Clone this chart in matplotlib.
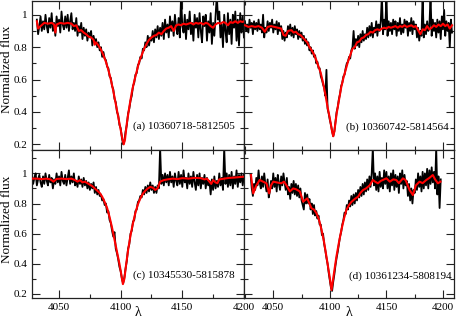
import numpy as np
import matplotlib
matplotlib.use("Agg")
import matplotlib.pyplot as plt
from matplotlib.ticker import MultipleLocator, FuncFormatter

plt.rcParams['font.family'] = ['Liberation Serif', 'DejaVu Serif']

# ---------------- data ----------------
labels = ["(a) 10360718-5812505", "(b) 10360742-5814564",
          "(c) 10345530-5815878", "(d) 10361234-5808194"]

# red model spectra (wavelength, flux)
model_a_wl = [4032, 4033, 4035, 4038, 4041, 4044, 4046, 4047, 4048, 4051, 4054, 4057, 4060, 4062, 4064, 4066,
              4068, 4070, 4072, 4074, 4076, 4078, 4079, 4080, 4082, 4084, 4086, 4088, 4090, 4092, 4094, 4096,
              4098, 4100, 4101.5, 4102.5, 4103.5, 4105, 4107, 4109, 4111, 4113, 4115, 4117, 4119, 4121, 4123,
              4125, 4127, 4129, 4131, 4133, 4135, 4137, 4139, 4141, 4143, 4145, 4147, 4149, 4151, 4153, 4155,
              4157, 4159, 4161, 4163, 4165, 4167, 4169, 4171, 4173, 4175, 4177, 4179, 4181, 4183, 4185, 4187,
              4189, 4191, 4193, 4195, 4197, 4199, 4200]
model_a_f = [0.96, 0.915, 0.93, 0.95, 0.945, 0.95, 0.94, 0.89, 0.94, 0.95, 0.945, 0.95, 0.945, 0.93, 0.935, 0.90,
             0.905, 0.89, 0.88, 0.865, 0.86, 0.845, 0.815, 0.83, 0.81, 0.785, 0.75, 0.71, 0.66, 0.60, 0.53, 0.45,
             0.37, 0.29, 0.23, 0.20, 0.23, 0.33, 0.43, 0.52, 0.59, 0.65, 0.71, 0.75, 0.79, 0.82, 0.845,
             0.86, 0.87, 0.875, 0.89, 0.88, 0.90, 0.915, 0.92, 0.93, 0.90, 0.935, 0.94, 0.935, 0.945, 0.94, 0.945,
             0.95, 0.94, 0.95, 0.945, 0.95, 0.94, 0.95, 0.945, 0.93, 0.92, 0.94, 0.95, 0.945, 0.955, 0.95, 0.935,
             0.955, 0.95, 0.96, 0.95, 0.96, 0.955, 0.96]

model_b_wl = [4025, 4028, 4031, 4034, 4037, 4040, 4042.5, 4045, 4048, 4051, 4054, 4057, 4059, 4061, 4063, 4066,
              4068, 4070, 4072, 4074, 4076, 4078, 4080, 4082, 4084, 4086, 4088, 4090, 4092, 4094, 4096, 4098,
              4100, 4102, 4103, 4104, 4106, 4108, 4110, 4112, 4114, 4116, 4118, 4120, 4122, 4124, 4126, 4128,
              4130, 4132, 4134, 4136, 4138, 4140, 4142, 4144, 4146, 4148, 4150, 4152, 4154, 4156, 4158, 4160,
              4162, 4164, 4166, 4168, 4170, 4172, 4174, 4176, 4178, 4180, 4182, 4184, 4186, 4188, 4190, 4192,
              4194, 4196, 4198, 4200, 4202, 4204, 4206, 4208]
model_b_f = [0.935, 0.925, 0.93, 0.925, 0.93, 0.92, 0.895, 0.925, 0.93, 0.925, 0.92, 0.915, 0.875, 0.87, 0.90, 0.905,
             0.89, 0.895, 0.88, 0.875, 0.86, 0.845, 0.83, 0.80, 0.78, 0.755, 0.72, 0.68, 0.64, 0.58, 0.51, 0.43,
             0.36, 0.28, 0.25, 0.28, 0.39, 0.47, 0.55, 0.61, 0.66, 0.71, 0.75, 0.79, 0.80, 0.83, 0.835, 0.855,
             0.86, 0.875, 0.88, 0.895, 0.89, 0.905, 0.91, 0.905, 0.915, 0.92, 0.915, 0.925, 0.92, 0.925, 0.93, 0.92,
             0.93, 0.925, 0.935, 0.925, 0.93, 0.935, 0.925, 0.93, 0.905, 0.88, 0.91, 0.905, 0.93, 0.91, 0.92, 0.935,
             0.925, 0.94, 0.93, 0.945, 0.93, 0.94, 0.915, 0.935]

model_c_wl = [4028, 4032, 4036, 4040, 4043, 4045.5, 4048, 4052, 4056, 4060, 4063, 4065, 4067, 4069, 4071, 4073,
              4075, 4077, 4079, 4081, 4083, 4085, 4087, 4089, 4091, 4093, 4095, 4097, 4099, 4100.5, 4101.8, 4103,
              4104.5, 4106, 4108, 4110, 4112, 4114, 4116, 4118, 4120, 4122, 4124, 4126, 4128, 4130, 4132, 4135,
              4138, 4142, 4146, 4150, 4155, 4160, 4165, 4168, 4170, 4172, 4173.5, 4175, 4177, 4178.5, 4180, 4184,
              4188, 4192, 4196, 4200]
model_c_f = [0.965, 0.965, 0.962, 0.965, 0.96, 0.945, 0.963, 0.965, 0.962, 0.965, 0.955, 0.945, 0.955, 0.94, 0.945, 0.935,
             0.925, 0.915, 0.90, 0.885, 0.87, 0.845, 0.81, 0.77, 0.71, 0.64, 0.56, 0.48, 0.40, 0.33, 0.265, 0.30,
             0.40, 0.49, 0.59, 0.67, 0.74, 0.795, 0.835, 0.865, 0.885, 0.90, 0.91, 0.905, 0.89, 0.90, 0.945, 0.955,
             0.96, 0.965, 0.962, 0.968, 0.965, 0.97, 0.968, 0.96, 0.965, 0.945, 0.93, 0.955, 0.94, 0.935, 0.96, 0.965,
             0.97, 0.972, 0.975, 0.978]

model_d_wl = [4030.3, 4032.3, 4035, 4038, 4041, 4044, 4046.4, 4048, 4050, 4053, 4057, 4059.5, 4061.7, 4064.7, 4067.6,
              4070, 4073.5, 4076.4, 4080, 4083.8, 4086, 4088.2, 4090.5, 4092.7, 4095, 4097, 4099.5, 4101.5, 4103.5,
              4105.8, 4108, 4110.2, 4112.5, 4114.6, 4117, 4119, 4122, 4125, 4127, 4129.3, 4132, 4135.2, 4138, 4140,
              4142.5, 4145, 4148, 4150, 4153, 4156, 4158.7, 4161, 4164.6, 4167, 4170.5, 4173.4, 4176, 4179.3, 4182,
              4185.2, 4188, 4191, 4193, 4195.5, 4197.8]
model_d_f = [0.989, 0.867, 0.92, 0.956, 0.945, 0.934, 0.867, 0.92, 0.945, 0.94, 0.934, 0.945, 0.92, 0.88, 0.90,
             0.895, 0.88, 0.812, 0.834, 0.768, 0.76, 0.735, 0.69, 0.624, 0.54, 0.447, 0.33, 0.226, 0.33,
             0.447, 0.54, 0.624, 0.70, 0.757, 0.79, 0.81, 0.83, 0.845, 0.87, 0.889, 0.90, 0.92, 0.956, 0.945,
             0.934, 0.95, 0.96, 0.967, 0.945, 0.96, 0.956, 0.935, 0.967, 0.955, 0.889, 0.856, 0.92, 0.945, 0.935,
             0.956, 0.97, 0.989, 0.96, 0.934, 0.945]

# observed spectra (black): first wavelength, sampling step (Angstrom), fluxes incl. cosmic-ray spikes
obs_a_start, obs_a_step = 4032, 1
obs_a_f = [0.97, 0.88, 0.93, 0.99, 0.90, 0.96, 0.91, 1.00, 0.93, 0.89,
           0.98, 0.92, 1.01, 0.90, 0.95, 0.87, 0.99, 0.93, 0.97, 0.89,
           1.02, 0.94, 0.91, 0.99, 0.92, 1.00, 0.90, 0.96, 1.01, 0.91,
           0.95, 0.90, 0.98, 0.87, 0.93, 0.89, 0.95, 0.85, 0.92, 0.87,
           0.91, 0.84, 0.89, 0.86, 0.90, 0.81, 0.87, 0.83, 0.85, 0.80,
           0.83, 0.78, 0.80, 0.74, 0.77, 0.73, 0.72, 0.68, 0.67, 0.62,
           0.61, 0.56, 0.54, 0.48, 0.46, 0.40, 0.38, 0.32, 0.30, 0.24,
           0.20, 0.22, 0.28, 0.32, 0.39, 0.42, 0.47, 0.50, 0.56, 0.58,
           0.63, 0.64, 0.69, 0.70, 0.74, 0.73, 0.79, 0.78, 0.83, 0.80,
           0.87, 0.81, 0.86, 0.84, 0.90, 0.83, 0.91, 0.86, 0.93, 0.85,
           0.92, 0.87, 0.95, 0.85, 0.97, 0.89, 0.94, 0.86, 0.99, 0.90,
           0.96, 0.87, 1.00, 0.92, 0.88, 0.98, 0.86, 1.12, 0.93, 0.89,
           1.00, 0.85, 0.97, 0.91, 1.02, 0.88, 0.95, 0.84, 1.00, 0.92,
           0.98, 0.86, 1.01, 0.90, 0.83, 0.99, 0.93, 1.00, 0.84, 0.96,
           0.89, 1.01, 0.82, 0.95, 0.87, 0.99, 1.12, 0.97, 1.02, 0.86,
           0.94, 0.80, 1.00, 0.90, 0.83, 1.01, 0.88, 0.97, 0.82, 1.00,
           0.92, 1.02, 0.84, 0.97, 0.81, 1.01, 0.89, 0.99, 0.86]
obs_b_start, obs_b_step = 4025, 1
obs_b_f = [0.96, 0.90, 0.94, 0.89, 0.97, 0.92, 0.95, 0.88, 0.96, 0.91,
           0.95, 0.90, 0.97, 0.91, 0.94, 0.89, 1.00, 0.86, 0.92, 0.89,
           0.96, 0.90, 0.95, 0.92, 0.97, 0.89, 0.94, 0.91, 0.96, 0.88,
           0.95, 0.90, 0.93, 0.85, 0.90, 0.84, 0.89, 0.86, 0.93, 0.88,
           0.94, 0.87, 0.92, 0.86, 0.93, 0.88, 0.91, 0.85, 0.90, 0.86,
           0.89, 0.84, 0.87, 0.82, 0.85, 0.81, 0.83, 0.78, 0.80, 0.76,
           0.78, 0.74, 0.75, 0.70, 0.71, 0.67, 0.67, 0.62, 0.60, 0.57,
           0.55, 0.50, 0.66, 0.42, 0.39, 0.35, 0.32, 0.28, 0.25, 0.28,
           0.34, 0.40, 0.43, 0.48, 0.51, 0.56, 0.58, 0.62, 0.63, 0.67,
           0.70, 0.71, 0.74, 0.73, 0.78, 0.80, 0.90, 0.79, 0.85, 0.81,
           0.87, 0.80, 0.88, 0.83, 0.90, 0.84, 0.88, 0.85, 0.92, 0.86,
           0.93, 0.87, 0.95, 0.86, 0.92, 0.89, 0.96, 0.87, 0.94, 0.90,
           0.96, 1.12, 0.88, 0.97, 0.91, 1.12, 0.87, 0.96, 0.90, 0.95,
           0.88, 0.97, 0.91, 0.96, 0.87, 0.95, 0.90, 0.98, 0.88, 0.94,
           0.89, 0.97, 0.92, 0.96, 0.87, 0.95, 0.90, 0.98, 0.88, 0.96,
           0.91, 0.94, 0.86, 0.92, 0.84, 0.90, 0.87, 1.12, 0.86, 0.94,
           0.88, 0.96, 0.90, 0.93, 1.12, 0.87, 0.97, 0.90, 0.95, 0.86,
           0.97, 0.89, 0.96, 0.85, 0.99, 0.91, 1.03, 0.87, 0.96, 0.90,
           0.95, 0.80, 0.97, 0.89]
obs_c_start, obs_c_step = 4028, 1
obs_c_f = [0.99, 0.93, 0.97, 1.00, 0.92, 0.96, 0.99, 0.94, 0.91, 0.98,
           0.93, 1.00, 0.95, 0.92, 0.99, 0.94, 0.97, 0.90, 0.96, 0.93,
           1.00, 0.94, 0.98, 0.92, 1.01, 0.95, 0.93, 0.99, 0.92, 0.97,
           1.02, 0.93, 0.98, 0.94, 1.00, 0.92, 0.95, 0.91, 0.98, 0.93,
           0.96, 0.91, 0.97, 0.92, 0.95, 0.90, 0.94, 0.89, 0.93, 0.90,
           0.94, 0.87, 0.91, 0.86, 0.89, 0.85, 0.86, 0.82, 0.83, 0.79,
           0.80, 0.74, 0.75, 0.69, 0.67, 0.62, 0.58, 0.61, 0.50, 0.47,
           0.43, 0.38, 0.35, 0.30, 0.27, 0.31, 0.37, 0.42, 0.50, 0.53,
           0.60, 0.62, 0.68, 0.69, 0.75, 0.76, 0.81, 0.82, 0.85, 0.84,
           0.89, 0.86, 0.91, 0.87, 0.92, 0.88, 0.94, 0.89, 0.92, 0.87,
           0.91, 0.87, 0.92, 0.90, 1.17, 0.93, 0.99, 0.92, 1.00, 0.94,
           0.99, 0.92, 1.01, 0.94, 0.98, 0.91, 1.00, 0.95, 0.92, 1.01,
           0.93, 0.99, 0.91, 1.02, 0.94, 0.97, 0.90, 1.00, 0.93, 0.98,
           0.91, 1.01, 0.94, 0.89, 0.99, 0.92, 1.00, 0.90, 0.97, 0.93,
           0.99, 0.90, 0.97, 0.92, 0.95, 0.86, 0.96, 0.89, 0.98, 0.90,
           0.95, 0.91, 1.00, 0.92, 0.97, 0.89, 1.17, 0.93, 1.00, 0.91,
           0.99, 0.92, 1.01, 0.90, 0.98, 0.93, 1.02, 0.91, 0.99, 0.94,
           1.00, 0.92, 0.99]
obs_d_start, obs_d_step = 4030, 1
obs_d_f = [0.99, 0.90, 0.85, 0.93, 0.89, 0.97, 0.92, 1.02, 0.94, 0.90,
           0.98, 0.91, 1.00, 0.93, 0.88, 0.96, 0.84, 0.88, 0.95, 0.90,
           1.00, 0.91, 0.97, 0.88, 0.99, 0.93, 0.89, 0.98, 0.92, 1.00,
           0.94, 0.89, 0.97, 0.86, 0.91, 0.83, 0.93, 0.87, 0.95, 0.86,
           0.93, 0.85, 0.92, 0.84, 0.90, 0.82, 0.79, 0.76, 0.87, 0.80,
           0.86, 0.80, 0.83, 0.76, 0.80, 0.73, 0.79, 0.72, 0.75, 0.70,
           0.72, 0.66, 0.66, 0.59, 0.60, 0.53, 0.49, 0.44, 0.40, 0.34,
           0.29, 0.24, 0.22, 0.28, 0.33, 0.39, 0.44, 0.48, 0.53, 0.58,
           0.61, 0.66, 0.69, 0.74, 0.73, 0.79, 0.76, 0.82, 0.78, 0.85,
           0.79, 0.86, 0.80, 0.87, 0.82, 0.89, 0.84, 0.91, 0.85, 0.93,
           0.86, 0.94, 0.88, 0.96, 0.89, 0.98, 0.91, 1.00, 1.17, 0.92,
           1.00, 0.89, 0.98, 0.88, 1.01, 0.91, 0.97, 0.90, 1.02, 0.93,
           1.01, 0.90, 0.98, 0.88, 1.00, 0.92, 1.02, 0.89, 0.99, 0.91,
           0.98, 0.87, 1.00, 0.93, 1.02, 0.90, 0.99, 0.92, 0.95, 0.85,
           0.93, 0.82, 0.90, 0.80, 0.89, 0.87, 0.96, 0.89, 1.00, 0.91,
           0.98, 0.88, 1.01, 0.90, 1.00, 0.92, 1.03, 0.90, 1.02, 0.93,
           1.04, 0.94, 1.01, 0.90, 1.17, 0.86, 0.98, 0.77, 0.96]

xlims = {"left": (4028.3, 4200.3), "right": (4024.4, 4210.0)}
ylims = {"top": (0.165, 1.085), "bottom": (0.171, 1.155)}
xticks = [4050, 4100, 4150, 4200]
yticks = [0.2, 0.4, 0.6, 0.8, 1.0]

# ---------------- figure ----------------
W, H = 457, 326
fig = plt.figure(figsize=(W / 100, H / 100), dpi=100)

def px_axes(x0, y0, x1, y1):
    return fig.add_axes([x0 / W, 1 - y1 / H, (x1 - x0) / W, (y1 - y0) / H])

axA = px_axes(32.3, 1.0, 244.3, 150.0)
axB = px_axes(244.3, 1.0, 454.3, 150.0)
axC = px_axes(32.3, 150.0, 244.3, 298.3)
axD = px_axes(244.3, 150.0, 454.3, 298.3)

panels = [
    (axA, model_a_wl, model_a_f, obs_a_start, obs_a_step, obs_a_f, "left", "top", labels[0], (0.956, 0.161)),
    (axB, model_b_wl, model_b_f, obs_b_start, obs_b_step, obs_b_f, "right", "top", labels[1], (0.975, 0.154)),
    (axC, model_c_wl, model_c_f, obs_c_start, obs_c_step, obs_c_f, "left", "bottom", labels[2], (0.956, 0.157)),
    (axD, model_d_wl, model_d_f, obs_d_start, obs_d_step, obs_d_f, "right", "bottom", labels[3], (0.985, 0.146)),
]

yfmt = FuncFormatter(lambda v, p: "1" if abs(v - 1) < 1e-6 else "%.1f" % v)

for ax, mwl, mf, ost, ostep, of, col, row, lab, lpos in panels:
    owl = ost + ostep * np.arange(len(of))
    ax.plot(owl, of, color="black", lw=1.3, zorder=2)
    ax.plot(mwl, mf, color="#ff0000", lw=1.5, zorder=3)
    ax.set_xlim(*xlims[col])
    ax.set_ylim(*ylims[row])
    ax.set_xticks(xticks)
    ax.xaxis.set_minor_locator(MultipleLocator(25))
    ax.set_yticks(yticks)
    ax.yaxis.set_minor_locator(MultipleLocator(0.1))
    ax.yaxis.set_major_formatter(yfmt)
    ax.tick_params(which="both", direction="in", top=True, right=True, labelsize=8, width=0.8, color="#222222")
    ax.tick_params(which="major", length=6)
    ax.tick_params(which="minor", length=3)
    for s in ax.spines.values():
        s.set_linewidth(0.9)
        s.set_color("#222222")
    if col == "right":
        ax.tick_params(labelleft=False)
    if row == "top":
        ax.tick_params(labelbottom=False)
    ax.text(lpos[0], lpos[1], lab, transform=ax.transAxes, ha="right", va="center", fontsize=8)

# axis titles
fig.text(7.5 / W, 1 - 69 / H, "Normalized flux", rotation=90, ha="center", va="center", fontsize=9.5)
fig.text(7.5 / W, 1 - 219 / H, "Normalized flux", rotation=90, ha="center", va="center", fontsize=9.5)
fig.text(138.3 / W, 1 - 312 / H, "λ", ha="center", va="center", fontsize=10)
fig.text(349.3 / W, 1 - 312 / H, "λ", ha="center", va="center", fontsize=10)

fig.savefig("out.png", dpi=100)
